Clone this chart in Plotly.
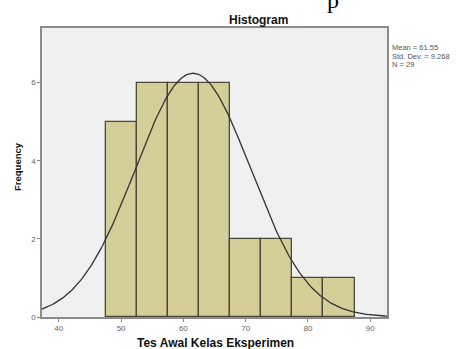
import numpy as np
import plotly.graph_objects as go

bin_edges = [47.5, 52.5, 57.5, 62.5, 67.5, 72.5, 77.5, 82.5, 87.5]
counts = [5, 6, 6, 6, 2, 2, 1, 1]
mean_val = 61.55
std_val = 9.268
n_val = 29
x_ticks = [40, 50, 60, 70, 80, 90]
y_ticks = [0, 2, 4, 6]

centers = [(a + b) / 2 for a, b in zip(bin_edges[:-1], bin_edges[1:])]
widths = [b - a for a, b in zip(bin_edges[:-1], bin_edges[1:])]
bw = widths[0]

xs = np.linspace(37.3, 92.7, 300)
ys = n_val * bw * np.exp(-0.5 * ((xs - mean_val) / std_val) ** 2) / (std_val * np.sqrt(2 * np.pi))

fig = go.Figure()
fig.add_trace(go.Bar(x=centers, y=counts, width=widths,
                     marker=dict(color="#d4cf99", line=dict(color="#4a4838", width=1.3)),
                     showlegend=False))
fig.add_trace(go.Scatter(x=xs, y=ys, mode="lines",
                         line=dict(color="#333333", width=1.3), showlegend=False))

axis_font = dict(family="Liberation Sans, Arial", size=8, color="#666666")
fig.update_layout(
    width=459, height=349,
    margin=dict(l=42, r=72, t=28, b=32),
    paper_bgcolor="white", plot_bgcolor="#f0f0f0",
    bargap=0,
    xaxis=dict(range=[37.3, 92.7], tickvals=x_ticks, ticks="outside", ticklen=3,
               tickcolor="#888888", tickfont=axis_font, showgrid=False, zeroline=False,
               showline=True, linecolor="#8c8c8c", linewidth=1.5, mirror=True),
    yaxis=dict(range=[0, 7.4], tickvals=y_ticks, ticks="outside", ticklen=3,
               tickcolor="#888888", tickfont=axis_font, showgrid=False, zeroline=False,
               showline=True, linecolor="#8c8c8c", linewidth=1.5, mirror=True),
    font=dict(family="Liberation Sans, Arial"),
)

W, H, L, B = 345, 289, 42, 32


def px(x):
    return (x - L) / W


def py(y):
    return (349 - y - B) / H


fig.add_annotation(text="<b>Histogram</b>", xref="paper", yref="paper",
                   x=px(258), y=py(20), showarrow=False,
                   font=dict(size=12, color="#111111"), xanchor="center", yanchor="middle")
fig.add_annotation(text="<b>Frequency</b>", xref="paper", yref="paper",
                   x=px(17), y=py(167), showarrow=False,
                   textangle=-90, font=dict(size=9.5, color="#111111"),
                   xanchor="center", yanchor="middle")
fig.add_annotation(text="<b>Tes Awal Kelas Eksperimen</b>", xref="paper", yref="paper",
                   x=px(215), y=py(343), showarrow=False,
                   font=dict(size=12, color="#111111"), xanchor="center", yanchor="middle")
stat_lines = [f"Mean = {mean_val:.2f}", f"Std. Dev. = {std_val:.3f}", f"N = {n_val}"]
for i, s in enumerate(stat_lines):
    fig.add_annotation(text=s, xref="paper", yref="paper", x=px(391), y=py(48 + 8 * i),
                       showarrow=False, align="left", xanchor="left", yanchor="middle",
                       borderpad=0, font=dict(size=7.5, color="#555555"))
fig.add_annotation(text="p", xref="paper", yref="paper",
                   x=px(333), y=py(0), showarrow=False,
                   xanchor="center", yanchor="middle",
                   font=dict(family="Liberation Serif", size=24, color="#000000"))

fig.write_html("out.html", config={"displayModeBar": False},
               post_script="document.body.style.margin='0';document.body.style.overflow='hidden';")
